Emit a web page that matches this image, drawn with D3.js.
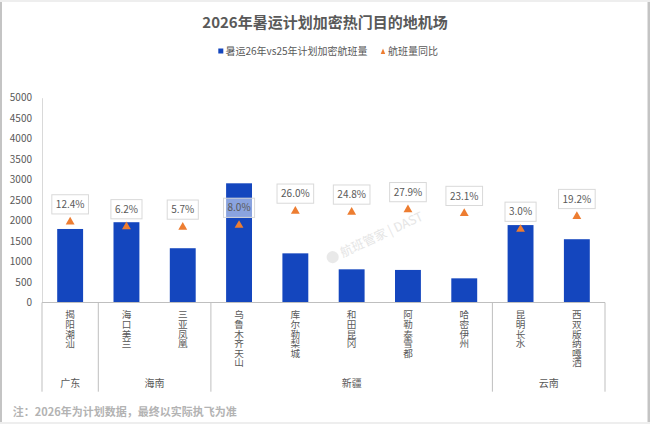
<!DOCTYPE html>
<html>
<head>
<meta charset="utf-8">
<script src="https://cdn.jsdelivr.net/npm/d3@7"></script>
<style>
  html, body { margin: 0; padding: 0; background: #fff; }
  svg text { font-family: "Noto Sans CJK SC", "Noto Sans", sans-serif; }
</style>
</head>
<body>
<div id="chart"></div>
<script>
// data
const airports = ['揭阳潮汕', '海口美兰', '三亚凤凰', '乌鲁木齐天山', '库尔勒梨城', '和田昆冈', '阿勒泰雪都', '哈密伊州', '昆明长水', '西双版纳嘎洒'];
const provinces = ['广东', '海南', '海南', '新疆', '新疆', '新疆', '新疆', '新疆', '云南', '云南'];
const flights = [1795, 1960, 1325, 2910, 1200, 810, 795, 590, 1890, 1545];
const yoy = [0.124, 0.062, 0.057, 0.080, 0.260, 0.248, 0.279, 0.231, 0.030, 0.192];
const yoyLabels = ['12.4%', '6.2%', '5.7%', '8.0%', '26.0%', '24.8%', '27.9%', '23.1%', '3.0%', '19.2%'];
const yTicks = [0, 500, 1000, 1500, 2000, 2500, 3000, 3500, 4000, 4500, 5000];

const W = 650, H = 424;
const plot = {left: 42, right: 605, top: 97.7, bottom: 302.5};
const barColor = '#1446BE';
const triColor = '#ED7D31';
const textColor = '#595959';

const svg = d3.select('#chart').append('svg')
    .attr('width', W)
    .attr('height', H);

// frame
svg.append('rect').attr('width', W).attr('height', H).attr('fill', '#eeeeee');
svg.append('rect').attr('x', 0).attr('y', 2).attr('width', W).attr('height', 420).attr('fill', '#c4c4c4');
svg.append('rect').attr('x', 2).attr('y', 2).attr('width', 645.5).attr('height', 420).attr('fill', '#fff');

// title
svg.append('text')
    .attr('x', 325).attr('y', 27.5)
    .attr('text-anchor', 'middle')
    .attr('font-size', 15).attr('font-weight', 'bold')
    .attr('fill', textColor)
    .text('2026年暑运计划加密热门目的地机场');

// legend
const legend = svg.append('g').attr('transform', 'translate(0,51)');
legend.append('rect').attr('x', 218.3).attr('y', -2.5).attr('width', 5).attr('height', 5).attr('fill', barColor);
legend.append('text').attr('x', 225.5).attr('y', 3.6).attr('font-size', 10).attr('fill', textColor)
    .text('暑运26年vs25年计划加密航班量');
legend.append('path').attr('d', 'M380.7,3 L385.2,3 L383,-2.6 Z').attr('fill', triColor);
legend.append('text').attr('x', 388).attr('y', 3.6).attr('font-size', 10).attr('fill', textColor)
    .text('航班量同比');

// watermark
const wm = svg.append('g').attr('transform', 'translate(378,236) rotate(-25)').attr('opacity', 0.6);
wm.append('circle').attr('cx', -50).attr('cy', 0).attr('r', 6).attr('fill', '#dcdcdc');
wm.append('text').attr('x', -41).attr('y', 4.5).attr('font-size', 12.5).attr('fill', '#d4d4d4')
    .text('航班管家 | DAST');

// scales
const x = d3.scaleBand()
    .domain(airports)
    .range([plot.left, plot.right])
    .paddingInner(0.54)
    .paddingOuter(0.27);

const y = d3.scaleLinear()
    .domain([0, 5000])
    .range([plot.bottom, plot.top]);

// hidden secondary axis for the growth rate
const y2 = d3.scaleLinear()
    .domain([-0.9, 1.7])
    .range([plot.bottom, plot.top]);

// y axis
const yAxis = svg.append('g')
    .attr('transform', `translate(${plot.left},0)`)
    .call(d3.axisLeft(y).tickValues(yTicks).tickSize(0).tickPadding(10).tickFormat(d3.format('d')));
yAxis.select('.domain').attr('stroke', '#d9d9d9');
yAxis.selectAll('text').attr('font-size', 10).attr('fill', textColor)
    .style('font-family', '"Noto Sans CJK SC", sans-serif');

// bars
svg.append('g').selectAll('rect')
    .data(airports)
    .enter()
    .append('rect')
    .attr('x', d => x(d))
    .attr('y', (d, i) => y(flights[i]))
    .attr('width', x.bandwidth())
    .attr('height', (d, i) => plot.bottom - y(flights[i]))
    .attr('fill', barColor);

// category axis, two levels
const axisG = svg.append('g');
axisG.append('line')
    .attr('x1', plot.left).attr('x2', plot.right)
    .attr('y1', plot.bottom).attr('y2', plot.bottom)
    .attr('stroke', '#bfbfbf');

const groups = [];
provinces.forEach((p, i) => {
    const last = groups[groups.length - 1];
    if (last && last.name === p) last.end = i;
    else groups.push({name: p, start: i, end: i});
});
const step = x.step();
const bandStart = i => plot.left + i * step;

const bounds = [0].concat(groups.map(g => g.end + 1));
axisG.selectAll('.sep')
    .data(bounds)
    .enter()
    .append('line')
    .attr('x1', d => bandStart(d)).attr('x2', d => bandStart(d))
    .attr('y1', plot.bottom).attr('y2', 391.7)
    .attr('stroke', '#bfbfbf');

// airport names, written vertically
axisG.selectAll('.cat')
    .data(airports)
    .enter()
    .append('text')
    .attr('x', d => x(d) + x.bandwidth() / 2)
    .attr('y', 310)
    .style('writing-mode', 'vertical-rl')
    .attr('font-size', 9.6)
    .attr('fill', textColor)
    .text(d => d);

axisG.selectAll('.grp')
    .data(groups)
    .enter()
    .append('text')
    .attr('x', g => (bandStart(g.start) + bandStart(g.end + 1)) / 2)
    .attr('y', 387)
    .attr('text-anchor', 'middle')
    .attr('font-size', 10)
    .attr('fill', textColor)
    .text(g => g.name);

// growth-rate markers
const tri = d3.symbol().type(d3.symbolTriangle).size(34);
svg.append('g').selectAll('path')
    .data(airports)
    .enter()
    .append('path')
    .attr('d', tri)
    .attr('transform', (d, i) => `translate(${x(d) + x.bandwidth() / 2},${y2(yoy[i])})`)
    .attr('fill', triColor);

// data labels in boxes
const lab = svg.append('g').selectAll('g')
    .data(airports)
    .enter()
    .append('g')
    .attr('transform', (d, i) => `translate(${x(d) + x.bandwidth() / 2},${y2(yoy[i]) - 17.5})`);

lab.append('text')
    .attr('text-anchor', 'middle')
    .attr('y', 3.6)
    .attr('font-size', 10)
    .attr('fill', textColor)
    .text((d, i) => yoyLabels[i])
    .each(function() {
        const bb = this.getBBox();
        d3.select(this.parentNode).insert('rect', 'text')
            .attr('x', bb.x - 4)
            .attr('y', -9.6)
            .attr('width', bb.width + 8)
            .attr('height', 19.2)
            .attr('fill', '#fff')
            .attr('fill-opacity', 0.5)
            .attr('stroke', '#d9d9d9');
    });

// footnote
svg.append('text')
    .attr('x', 12.7).attr('y', 416.2)
    .attr('font-size', 11).attr('font-weight', 'bold')
    .attr('fill', '#b3b3b3')
    .text('注：2026年为计划数据，最终以实际执飞为准');
</script>
</body>
</html>
